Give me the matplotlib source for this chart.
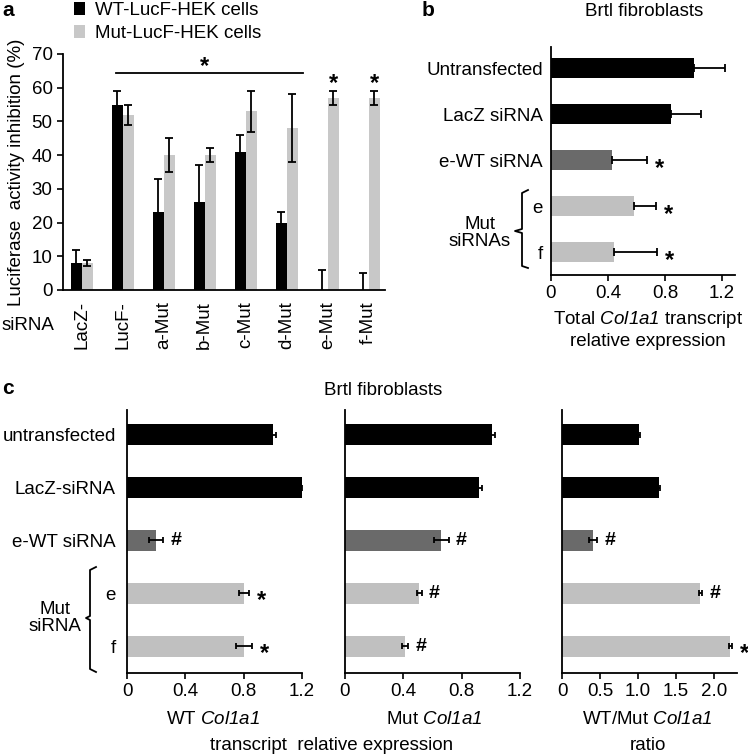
import matplotlib
matplotlib.use("Agg")
import matplotlib.pyplot as plt
import numpy as np
from matplotlib.lines import Line2D

plt.rcParams['font.family'] = ['Liberation Sans', 'DejaVu Sans']
plt.rcParams['mathtext.fontset'] = 'custom'
plt.rcParams['mathtext.rm'] = 'Liberation Sans'
plt.rcParams['mathtext.it'] = 'Liberation Sans:italic'
plt.rcParams['mathtext.sf'] = 'Liberation Sans:italic'
plt.rcParams['font.size'] = 13.5

# panel a: luciferase inhibition
a_labels = ['LacZ-', 'LucF-', 'a-Mut', 'b-Mut', 'c-Mut', 'd-Mut', 'e-Mut', 'f-Mut']
a_wt = [8, 55, 23, 26, 41, 20, 0, 0]
a_wt_err = [4, 4, 10, 11, 5, 3, 6, 5]
a_mut = [8, 52, 40, 40, 53, 48, 57, 57]
a_mut_err = [1, 3, 5, 2, 6, 10, 2, 2]
a_mut_marks = ['', '', '', '', '', '', '*', '*']

# panel b: total Col1a1
b_labels = ['Untransfected', 'LacZ siRNA', 'e-WT siRNA', 'e', 'f']
b_vals = [1.0, 0.84, 0.43, 0.58, 0.44]
b_err = [0.22, 0.21, 0.24, 0.155, 0.30]
b_marks = ['', '', '*', '*', '*']

# panel c
c_labels = ['untransfected', 'LacZ-siRNA', 'e-WT siRNA', 'e', 'f']
c_wt = [1.0, 1.2, 0.2, 0.8, 0.8]
c_wt_err = [0.02, 0.005, 0.05, 0.035, 0.055]
c_wt_marks = ['', '', '#', '*', '*']
c_mut = [1.01, 0.92, 0.66, 0.51, 0.41]
c_mut_err = [0.02, 0.02, 0.05, 0.015, 0.02]
c_mut_marks = ['', '', '#', '#', '#']
c_ratio = [1.01, 1.27, 0.41, 1.82, 2.21]
c_ratio_err = [0.02, 0.02, 0.05, 0.02, 0.02]
c_ratio_marks = ['', '', '#', '#', '*']

BLACK = '#000000'
DARK = '#6a6a6a'
LIGHT = '#c0c0c0'
LIGHT_A = '#c8c8c8'
row_colors = [BLACK, BLACK, DARK, LIGHT, LIGHT]

W, H = 748, 756
fig = plt.figure(figsize=(W / 100, H / 100), dpi=100)


def add_ax(l, t, r, b):
    return fig.add_axes([l / W, 1 - b / H, (r - l) / W, (b - t) / H])


def ftext(x, y, s, **kw):
    kw.setdefault('ha', 'center')
    kw.setdefault('va', 'center')
    fig.text(x / W, 1 - y / H, s, **kw)


def style(ax):
    for s in ['top', 'right']:
        ax.spines[s].set_visible(False)
    for s in ['left', 'bottom']:
        ax.spines[s].set_linewidth(1.3)
    ax.tick_params(width=1.2, length=4, direction='out')


def mark(ax, m, xy, dx, dy):
    # significance symbol next to / above an error bar end
    star = m == '*'
    ax.annotate(m, xy, xytext=(dx, dy - (4 if star else 0)), textcoords='offset pixels',
                ha='center', va='center', fontsize=17 if star else 14,
                fontweight='bold', annotation_clip=False)


# ---------------- panel a ----------------
ax = add_ax(63, 54, 385, 290)
style(ax)
x = np.arange(len(a_labels))
w = 0.27
b1 = ax.bar(x - w / 2, a_wt, w, color=BLACK, label='WT-LucF-HEK cells')
b2 = ax.bar(x + w / 2, a_mut, w, color=LIGHT_A, label='Mut-LucF-HEK cells')
ax.errorbar(x - w / 2, a_wt, yerr=a_wt_err, fmt='none', ecolor='black',
            elinewidth=1.3, capsize=3, capthick=1.3)
ax.errorbar(x + w / 2, a_mut, yerr=a_mut_err, fmt='none', ecolor='black',
            elinewidth=1.3, capsize=3, capthick=1.3)
for xi, v, e, m in zip(x, a_mut, a_mut_err, a_mut_marks):
    if m:
        mark(ax, m, (xi + w / 2, v + e), 0, 12)
ax.set_xlim(-0.46, 7.4)
ax.set_ylim(0, 70)
ax.set_yticks(range(0, 71, 10))
ax.set_xticks(x)
ax.set_xticklabels(a_labels, rotation=90)
ax.tick_params(axis='x', length=0, pad=8)
ax.set_ylabel('Luciferase  activity inhibition (%)', labelpad=5)
# significance bar across LucF..d-Mut
ax.plot([x[1] - 0.17, x[5] + 0.4], [64.5, 64.5], color='black', lw=1.3, clip_on=False)
mark(ax, '*', ((x[1] + x[5]) / 2, 64.5), 0, 10)
ax.legend(handles=[b1, b2], loc='upper left', bbox_to_anchor=(74 / W, 1 - 2 / H),
          bbox_transform=fig.transFigure, frameon=False, handlelength=0.6,
          handleheight=0.7, handletextpad=0.5, labelspacing=0.3, borderpad=0,
          borderaxespad=0, fontsize=13.5)
ftext(28, 326, 'siRNA')
ftext(8, 10, 'a', fontweight='bold', fontsize=15)

# ---------------- panel b ----------------
ax = add_ax(551, 47, 735, 275)
style(ax)
y = np.arange(len(b_labels))
ax.barh(y, b_vals, 0.42, color=row_colors)
ax.errorbar(b_vals, y, xerr=[np.zeros(len(b_vals)), b_err], fmt='none', ecolor='black',
            elinewidth=1.3, capsize=3, capthick=1.3)
for yi, v, e, m in zip(y, b_vals, b_err, b_marks):
    if m:
        mark(ax, m, (v + e, yi), 13, -4)
ax.set_ylim(4.5, -0.46)
ax.set_xlim(0, 1.29)
ax.set_xticks([0, 0.4, 0.8, 1.2])
ax.set_xticklabels(['0', '0.4', '0.8', '1.2'])
ax.set_yticks(y)
ax.set_yticklabels(b_labels)
ax.tick_params(axis='y', length=0, pad=6)
ftext(644, 12, 'Brtl fibroblasts')
ftext(428, 11, 'b', fontweight='bold', fontsize=15)
ftext(648, 320, r'Total $\mathsf{Col1a1}$ transcript')
ftext(648, 342, 'relative expression')
ftext(480, 233, 'Mut\nsiRNAs', linespacing=1.0)
fig.add_artist(Line2D(np.array([528, 522, 522, 515, 522, 522, 528]) / W,
                      1 - np.array([190, 193, 229, 231, 233, 266, 268]) / H,
                      color='black', lw=1.3))

# ---------------- panel c ----------------
c_sets = [
    (127, 302, c_wt, c_wt_err, c_wt_marks, 1.2, [0, 0.4, 0.8, 1.2], ['0', '0.4', '0.8', '1.2']),
    (345, 520, c_mut, c_mut_err, c_mut_marks, 1.2, [0, 0.4, 0.8, 1.2], ['0', '0.4', '0.8', '1.2']),
    (562, 737, c_ratio, c_ratio_err, c_ratio_marks, 2.3, [0, 0.5, 1.0, 1.5, 2.0],
     ['0', '0.5', '1.0', '1.5', '2.0']),
]
y = np.arange(len(c_labels))
for i, (l, r, vals, errs, marks, xmax, ticks, tlabels) in enumerate(c_sets):
    ax = add_ax(l, 410, r, 673)
    style(ax)
    ax.barh(y, vals, 0.4, color=row_colors)
    ax.errorbar(vals, y, xerr=errs, fmt='none', ecolor='black',
                elinewidth=1.3, capsize=2.5, capthick=1.3)
    for yi, v, e, m in zip(y, vals, errs, marks):
        if m:
            mark(ax, m, (v + e, yi), 13, -3 if m == '*' else 0)
    ax.set_ylim(4.51, -0.47)
    ax.set_xlim(0, xmax)
    ax.set_xticks(ticks)
    ax.set_xticklabels(tlabels)
    ax.set_yticks(y)
    if i == 0:
        ax.set_yticklabels(c_labels)
        ax.tick_params(axis='y', length=0, pad=8)
    else:
        ax.set_yticklabels([])
        ax.tick_params(axis='y', length=0)

ftext(383, 390, 'Brtl fibroblasts')
ftext(8, 389, 'c', fontweight='bold', fontsize=15)
ftext(213, 720, r'WT $\mathsf{Col1a1}$')
ftext(434, 720, r'Mut $\mathsf{Col1a1}$')
ftext(647, 720, r'WT/Mut $\mathsf{Col1a1}$')
ftext(332, 746, 'transcript  relative expression')
ftext(648, 746, 'ratio')
ftext(55, 618, 'Mut\nsiRNA', linespacing=1.0)
fig.add_artist(Line2D(np.array([96, 90, 90, 86, 90, 90, 96]) / W,
                      1 - np.array([567, 570, 616, 618, 620, 669, 672]) / H,
                      color='black', lw=1.3))

fig.savefig('out.png', dpi=100)
